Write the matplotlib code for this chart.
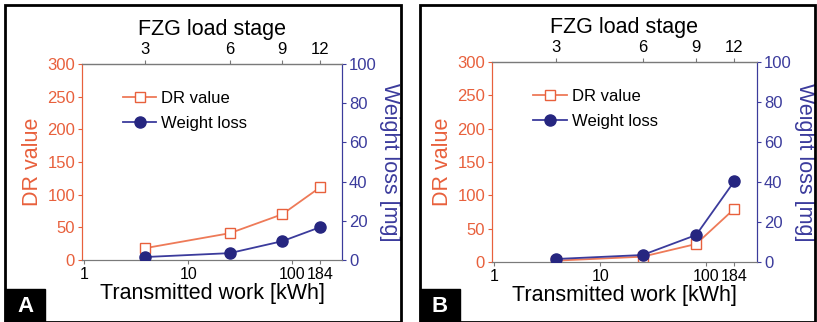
import matplotlib.pyplot as plt
from matplotlib.patches import Rectangle
from matplotlib.ticker import FixedLocator, NullLocator

plt.rcParams['font.family'] = ['Liberation Sans', 'DejaVu Sans']

# transmitted work [kWh] at the end of load stage 3, 6, 9, 12
work = [3.8, 25, 80, 184]
stages = ['3', '6', '9', '12']

dr_a = [18, 41, 70, 111]
loss_a = [1.5, 3.5, 9.6, 16.7]

dr_b = [2, 8, 27, 80]
loss_b = [1.5, 3.5, 13.5, 40.5]

orange = '#e8603c'
blue = '#3b3b9c'
navy = '#262680'
gray = '#7a7a7a'

fig = plt.figure(figsize=(8.17, 3.22), dpi=100)


def panel(rect, dr, loss, letter, box_x):
    ax = fig.add_axes(rect)
    ax2 = ax.twinx()
    ax.set_xscale('log')
    ax.set_xlim(0.95, 300)
    ax.set_ylim(0, 300)
    ax2.set_ylim(0, 100)

    l1, = ax.plot(work, dr, '-s', color='#ee7a58', mfc='white', mec=orange,
                  ms=7, lw=1.3, label='DR value', zorder=3)
    l2, = ax2.plot(work, loss, '-o', color=blue, mfc=navy, mec=navy,
                   ms=8, lw=1.3, label='Weight loss', zorder=4)

    ax.xaxis.set_major_locator(FixedLocator([1, 10, 100, 184]))
    ax.set_xticklabels(['1', '10', '100', '184'])
    ax.xaxis.set_minor_locator(NullLocator())
    ax.set_yticks([0, 50, 100, 150, 200, 250, 300])
    ax2.set_yticks([0, 20, 40, 60, 80, 100])

    ax.tick_params(axis='x', labelsize=11.5, length=3, color=gray, pad=2)
    ax.tick_params(axis='y', labelsize=12, colors=orange, length=3, pad=2)
    ax2.tick_params(axis='y', labelsize=12, colors=blue, length=3, pad=2)

    for a in (ax, ax2):
        a.spines['top'].set_color(gray)
        a.spines['bottom'].set_color(gray)
        a.spines['left'].set_color(orange)
        a.spines['right'].set_color(blue)

    ax.set_xlabel('Transmitted work [kWh]', fontsize=15.5, labelpad=1)
    ax.set_ylabel('DR value', fontsize=15.5, color=orange, labelpad=3)
    ax2.set_ylabel('Weight loss [mg]', fontsize=15.5, color=blue,
                   rotation=270, labelpad=17)

    top = ax.secondary_xaxis('top')
    top.xaxis.set_major_locator(FixedLocator(work))
    top.xaxis.set_minor_locator(NullLocator())
    top.set_xticklabels(stages)
    top.tick_params(labelsize=12, length=3, color=gray, pad=2)
    top.set_xlabel('FZG load stage', fontsize=15.5, labelpad=5)

    ax.legend([l1, l2], ['DR value', 'Weight loss'], loc='upper left',
              bbox_to_anchor=(0.1, 0.94), frameon=False, fontsize=12,
              handlelength=2.0, handletextpad=0.3, labelspacing=0.6)

    fig.add_artist(Rectangle((box_x, 0), 40 / 817, 33 / 322,
                             transform=fig.transFigure, color='black'))
    fig.text(box_x + 20 / 817, 15 / 322, letter, color='white',
             fontsize=16, fontweight='bold', ha='center', va='center')


panel([82 / 817, 62 / 322, 260 / 817, 196 / 322], dr_a, loss_a, 'A', 5 / 817)
panel([492 / 817, 60 / 322, 265 / 817, 200 / 322], dr_b, loss_b, 'B', 420 / 817)

# frames around the two panels
fig.add_artist(Rectangle((5 / 817, 0), 396 / 817, 317 / 322, fill=False,
                         lw=2, ec='black', transform=fig.transFigure))
fig.add_artist(Rectangle((420 / 817, 0), 395 / 817, 317 / 322, fill=False,
                         lw=2, ec='black', transform=fig.transFigure))

fig.savefig('out.png', dpi=100)
